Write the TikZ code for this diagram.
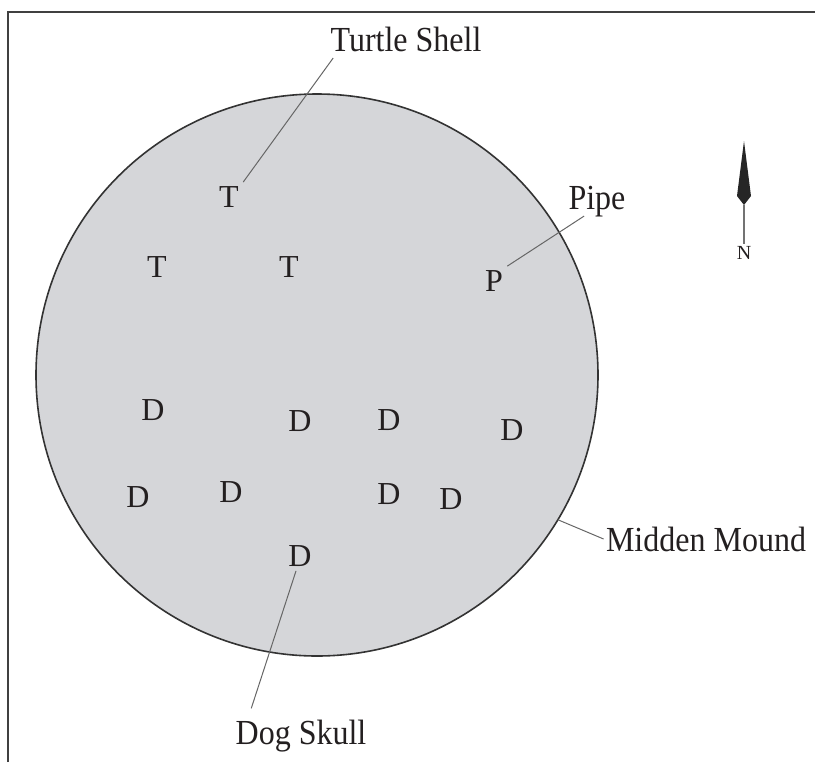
\documentclass[tikz,border=0pt]{standalone}
\usepackage{fontspec}
\setmainfont{Liberation Serif}
\usetikzlibrary{calc}
\definecolor{moundfill}{RGB}{213,214,217}
\definecolor{ink}{RGB}{35,31,32}
\begin{document}
\begin{tikzpicture}[x=0.5pt,y=-0.5pt]
\tikzstyle{find} = [inner sep=2pt, font=\fontsize{16}{19}\selectfont, text=ink]
\tikzstyle{callout} = [inner sep=1pt, font=\fontsize{16}{19}\selectfont, text=ink, yscale=1.1]
\tikzstyle{leader} = [draw=black!60, line width=0.5pt]
\useasboundingbox (0,0) rectangle (815,762);
\draw[line width=1pt, black!75] (8,762)--(8,12)--(815,12);

% the mound
\node (mound) at (317,375) [circle, draw=black!80, fill=moundfill, line width=0.8pt,
  minimum size=281pt, inner sep=0pt, outer sep=0pt] {};

% turtle shells and pipe
\node (t1) at (229,197) [find] {T};
\node (t2) at (157,267) [find] {T};
\node (t3) at (289,267) [find] {T};
\node (p1) at (494,281) [find] {P};

% dog burials
\node (d1) at (153,410) [find] {D};
\node (d2) at (300,421) [find] {D};
\node (d3) at (389,420) [find] {D};
\node (d4) at (512,430) [find] {D};
\node (d5) at (138,497) [find] {D};
\node (d6) at (231,492) [find] {D};
\node (d7) at (389,494) [find] {D};
\node (d8) at (451,499) [find] {D};
\node (d9) at (300,556) [find] {D};

% labels
\node (turtle) at (406,39) [callout] {Turtle Shell};
\node (pipe) at (597,202) [callout] {Pipe};
\node (midden) at (706,539) [callout] {Midden Mound};
\node (dog) at (301,736) [callout] {Dog Skull};

\draw[leader] (t1.north east) -- ($(turtle.south west)+(5,4)$);
\draw[leader] (p1.north east) -- ($(pipe.south west)+(18,-4)$);
\draw[leader] (mound.-31) -- (midden.west);
\draw[leader] (d9.-105) -- ($(dog.north west)+(18,-9)$);

% north arrow
\fill[black!85] (744,141) -- (751,196) -- (744,205) -- (737,196) -- cycle;
\coordinate (ntail) at (744,205);
\node (nlabel) at (744,253) [inner sep=1pt, font=\fontsize{10}{12}\selectfont, text=ink] {N};
\draw[black!55, line width=0.6pt] (ntail) -- (nlabel.north);
\end{tikzpicture}
\end{document}
